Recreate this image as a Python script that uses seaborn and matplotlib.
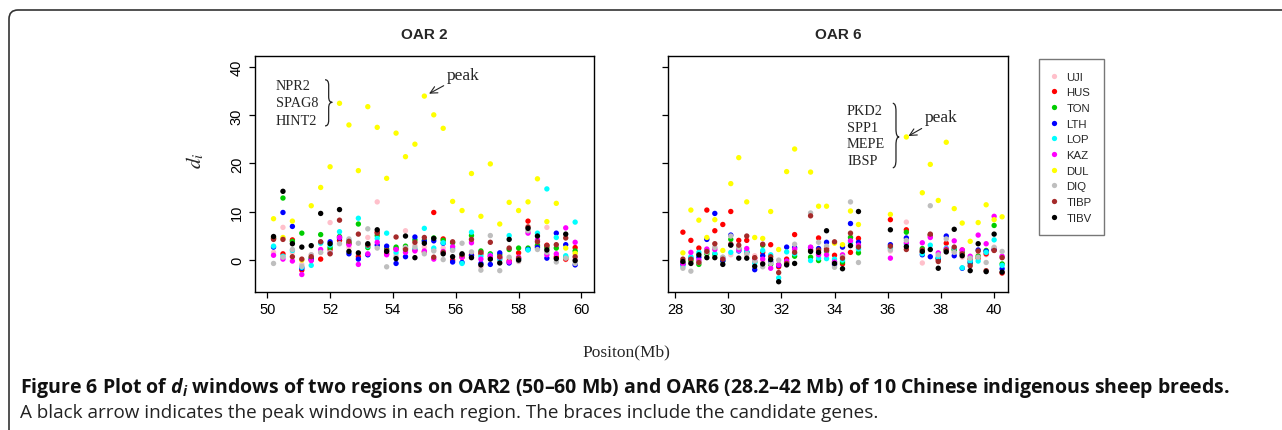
import numpy as np
import pandas as pd
import matplotlib
matplotlib.use("Agg")
import matplotlib.pyplot as plt
import seaborn as sns
from matplotlib.path import Path
from matplotlib.patches import PathPatch
from matplotlib.lines import Line2D

# ---------------- data ----------------
breeds = ["UJI", "HUS", "TON", "LTH", "LOP", "KAZ", "DUL", "DIQ", "TIBP", "TIBV"]
breed_colors = ["#FFC0CB", "#FF0000", "#00CD00", "#0000FF", "#00FFFF",
                "#FF00FF", "#FFFF00", "#BEBEBE", "#A52A2A", "#000000"]

oar2_pos = [50.2, 50.5, 50.8, 51.1, 51.4, 51.7, 52.0, 52.3, 52.6, 52.9, 53.2,
            53.5, 53.8, 54.1, 54.4, 54.7, 55.0, 55.3, 55.6, 55.9, 56.2, 56.5,
            56.8, 57.1, 57.4, 57.7, 58.0, 58.3, 58.6, 58.9, 59.2, 59.5, 59.8]
oar2_uji = [1.5, 6.7, 1.5, -1.0, 1.0, 1.5, 7.7, 4.0, 2.5, 1.0, 4.6, 12.0, 1.5, 1.0, 6.0, 3.0, 2.6,
            2.0, 2.4, 2.0, 0.4, 3.8, -1.5, 0.3, -0.2, 0.2, -0.4, 5.8, 3.8, 6.7, 0.8, 0.0, 0.2]
oar2_hus = [4.4, 1.2, 4.1, -2.2, -0.1, 0.1, 2.1, 4.0, 3.3, 0.6, 3.0, 5.7, 1.2, 2.2, 2.3, 2.0, 1.6,
            9.8, 4.3, -0.1, 0.5, 1.0, 1.2, 0.6, 0.3, -0.3, 1.4, 8.0, 2.8, 3.0, 0.5, 0.1, 2.5]
oar2_ton = [4.5, 12.8, 3.8, 5.5, 0.4, 5.2, 2.5, 4.8, 3.5, 7.4, 2.5, 5.0, 2.2, 2.6, 2.8, 4.1, 4.0,
            4.5, 4.0, 3.5, 0.8, 5.0, 1.8, 1.2, 1.0, 2.1, 2.4, 2.4, 3.0, 2.5, 2.4, 0.5, 1.8]
oar2_lth = [2.6, 9.8, 6.9, -1.8, 0.1, 3.6, 3.7, 4.5, 1.2, 0.1, 1.0, 3.0, 2.8, -0.8, 0.6, 4.7, 3.8,
            3.9, 3.4, -0.5, -0.6, 0.8, -0.8, -1.0, 1.4, -0.7, 0.2, 2.1, 2.5, 0.3, 5.5, 3.1, -1.1]
oar2_lop = [2.8, 0.7, 1.9, -1.6, -1.2, 3.4, 3.0, 5.8, 4.0, 8.6, 2.8, 4.4, 5.5, 1.5, 1.9, 2.2, 6.5,
            2.4, 3.5, 2.3, -0.8, 5.7, 0.7, 0.9, 0.1, 5.0, 0.0, 2.0, 5.5, 14.7, 4.6, 0.8, 7.8]
oar2_kaz = [0.9, 0.1, -0.3, -3.1, -0.2, 2.1, 1.4, 4.6, 3.1, -1.0, 1.2, 3.6, 1.0, 2.1, 1.5, 1.8, 1.8,
            0.1, 1.7, 2.7, 0.5, 3.5, 0.1, 0.8, 0.5, -0.5, 0.5, 5.5, 4.1, 1.0, 1.2, 6.6, 3.6]
oar2_dul = [8.5, 4.6, 8.0, -0.1, 11.2, 15.0, 19.3, 32.5, 28.0, 18.5, 31.8, 27.5, 16.9, 26.3, 21.4,
            24.0, 34.0, 30.1, 27.3, 12.1, 10.2, 17.9, 9.0, 19.9, 7.4, 11.9, 10.2, 12.0, 16.8, 7.9,
            11.7, 2.4, 1.3]
oar2_diq = [-0.8, 0.5, 2.1, -1.4, 1.0, 1.5, 1.5, 3.3, 4.3, 3.4, 6.4, 2.4, -1.5, 0.5, 2.5, 2.6, 1.2,
            1.8, 0.0, 1.9, 3.4, 1.6, -2.2, 5.0, -2.3, 0.5, -0.3, 6.0, 2.1, 1.5, -0.5, 0.3, -0.8]
oar2_tibp = [4.2, 4.2, 0.6, 0.1, 0.6, 3.7, 1.2, 8.2, 3.8, 5.3, 3.0, 5.5, 1.9, 4.7, 2.1, 3.6, 4.6,
             0.5, 1.5, 3.7, 1.0, 4.2, 1.5, 3.6, 0.6, 2.4, 0.3, 6.8, 3.7, 2.9, 3.1, 4.5, 0.6]
oar2_tibv = [4.8, 14.2, 3.3, 2.6, 2.9, 9.6, 3.3, 10.4, 1.7, 1.4, 3.3, 6.2, 1.7, 0.2, 4.9, 0.4, 3.4,
             4.4, 1.2, 0.6, 1.2, 0.4, -1.1, 0.1, -0.7, 4.2, -0.1, 6.5, 4.9, 2.0, 0.2, 5.3, -0.2]

oar6_pos = [28.3, 28.6, 28.9, 29.2, 29.5, 29.8, 30.1, 30.4, 30.7, 31.0, 31.3, 31.6,
            31.9, 32.2, 32.5, 33.1, 33.4, 33.7, 34.0, 34.3, 34.6, 34.9, 36.1, 36.7,
            37.3, 37.6, 37.9, 38.2, 38.5, 38.8, 39.1, 39.4, 39.7, 40.0, 40.3]
oar6_uji = [-0.5, -0.5, -0.3, 2.0, 2.5, 0.5, 1.0, 2.0, 1.0, 0.8, -0.5, -0.3, -1.0, -0.7, 2.0, 1.8,
            1.2, 1.5, -1.2, 0.8, 4.8, 2.0, 1.8, 7.8, -0.7, 4.8, 0.8, 1.8, 1.6, 0.5, 0.0, 1.0, 1.0,
            2.6, 0.5]
oar6_hus = [5.7, 4.0, 2.4, 10.3, 6.0, 7.3, 10.0, 4.0, 4.0, 0.3, 1.5, 3.1, -1.5, 0.1, 5.2, 2.0, 4.5,
            2.3, 0.9, -0.9, 1.5, 4.4, 8.3, 6.2, 1.5, 5.0, -0.1, 3.4, 2.2, 2.0, 0.1, 0.3, 1.2, 2.0,
            -2.8]
oar6_ton = [-0.7, -0.2, -1.0, 1.2, 1.1, -0.3, 4.2, 2.3, 1.5, -0.5, 3.0, -1.0, -1.1, -0.5, 0.7, 0.5,
            -0.2, 1.8, -0.5, -0.5, 4.6, 1.4, 2.5, 5.7, 2.3, 5.2, 0.2, 2.0, 2.0, 1.5, -0.8, 0.7, 1.9,
            7.1, -0.9]
oar6_lth = [-1.0, 0.3, 0.5, 4.2, 9.6, -0.2, 5.1, 1.8, 1.6, -2.1, 0.8, -0.5, -1.2, 2.6, 2.5, 2.5, 2.3,
            3.6, -1.0, 2.6, 7.5, 3.6, 3.1, 4.5, 1.0, 0.6, 0.3, 4.9, 0.8, -1.8, -0.5, 2.0, 1.7, 2.1,
            -1.9]
oar6_lop = [-1.4, 0.6, 1.5, 1.8, 1.3, 0.4, 1.5, 1.9, 1.7, -0.7, 1.9, 1.0, -3.8, 1.6, 1.2, -0.2, 0.3,
            0.2, 0.1, -0.1, 3.5, 2.2, 2.3, 3.2, 1.2, 3.0, 0.5, 2.4, 2.4, -1.7, -0.3, -0.3, 1.5, 4.1,
            -1.2]
oar6_kaz = [-0.9, 1.5, -0.1, 2.2, 2.1, 0.2, 3.1, 2.0, 2.3, -0.2, 0.1, -1.8, -1.1, -0.3, 2.2, 2.6, 1.0,
            1.0, -0.5, 1.0, 3.9, 3.0, 0.3, 3.5, 3.5, 4.6, 1.4, 2.2, 3.9, 2.0, 0.7, 5.1, 3.3, 9.0,
            0.7]
oar6_dul = [1.4, 10.3, 8.2, 4.6, 8.3, 1.9, 15.8, 21.2, 12.0, 4.6, 4.4, 10.0, 2.1, 18.3, 23.0, 18.2,
            11.1, 11.1, 3.4, 3.1, 10.1, 7.3, 9.4, 25.5, 13.9, 19.8, 12.3, 24.4, 10.6, 7.6, 3.8, 7.7,
            11.4, 8.3, 8.9]
oar6_diq = [-1.8, -2.4, -0.6, 1.5, 2.5, 0.5, 4.9, 2.5, 1.2, -0.3, -1.5, -0.8, -0.1, -0.9, 3.2, 9.7,
            3.6, 2.8, -1.6, 0.6, 12.0, -0.6, 2.0, 4.0, 1.9, 11.2, 1.0, 4.3, 1.5, 1.0, 0.3, 0.5, -0.6,
            2.5, 1.7]
oar6_tibp = [0.1, 0.1, -0.6, 1.7, 3.3, 0.1, 3.2, 3.0, 4.9, 0.4, 3.2, 0.6, -2.7, -0.8, 1.5, 9.1, 2.0,
             2.0, 3.7, 0.3, 5.5, 2.6, 2.8, 2.1, 2.0, 5.3, -0.4, 2.0, 2.6, 1.2, -1.3, 1.8, -2.3, 1.9,
             0.4]
oar6_tibv = [-0.4, -0.8, 1.0, 0.4, 0.4, -1.0, 3.0, 0.3, 0.3, -1.4, -0.9, 0.0, -4.6, -1.1, -0.8, 1.7,
             1.5, 6.0, -0.8, -1.9, 2.9, 10.0, 6.2, 2.7, 1.7, 2.1, -1.8, 1.6, 6.3, 0.8, -2.3, 3.3, -2.5,
             5.3, -2.6]

oar2_genes = ["NPR2", "SPAG8", "HINT2"]
oar6_genes = ["PKD2", "SPP1", "MEPE", "IBSP"]
oar2_xticks = [50, 52, 54, 56, 58, 60]
oar6_xticks = [28, 30, 32, 34, 36, 38, 40]
di_yticks = [0, 10, 20, 30, 40]
di_yticklabels = ["0", "10", "20", "30", "40"]

caption_bold = ("Figure 6 Plot of $d_i$ windows of two regions on OAR2 (50\u201360 Mb) and OAR6 "
                "(28.2\u201342 Mb) of 10 Chinese indigenous sheep breeds.")
caption_rest = ("A black arrow indicates the peak windows in each region. "
                "The braces include the candidate genes.")

# ---------------- frames ----------------
def long_frame(pos, series):
    rows = []
    for name, vals in zip(breeds, series):
        rows.append(pd.DataFrame({"pos": pos, "di": vals, "breed": name}))
    return pd.concat(rows, ignore_index=True)

df2 = long_frame(oar2_pos, [oar2_uji, oar2_hus, oar2_ton, oar2_lth, oar2_lop, oar2_kaz,
                            oar2_dul, oar2_diq, oar2_tibp, oar2_tibv])
df6 = long_frame(oar6_pos, [oar6_uji, oar6_hus, oar6_ton, oar6_lth, oar6_lop, oar6_kaz,
                            oar6_dul, oar6_diq, oar6_tibp, oar6_tibv])

# ---------------- style ----------------
sns.set_style("white")
plt.rcParams["font.family"] = ["Liberation Sans", "DejaVu Sans"]
plt.rcParams["mathtext.fontset"] = "custom"
plt.rcParams["mathtext.it"] = "Open Sans:italic:bold"
plt.rcParams["mathtext.rm"] = "Open Sans:bold"
plt.rcParams["mathtext.bf"] = "Open Sans:bold"

W, H = 1282, 431
fig = plt.figure(figsize=(W / 100, H / 100), dpi=100)
fig.patch.set_facecolor("white")

ax1 = fig.add_axes([255 / W, 1 - 293.3 / H, 339 / W, 236.6 / H])
ax2 = fig.add_axes([668 / W, 1 - 293.3 / H, 339.7 / W, 236.6 / H])

pal = dict(zip(breeds, breed_colors))
for ax, df in ((ax1, df2), (ax2, df6)):
    sns.scatterplot(data=df, x="pos", y="di", hue="breed", hue_order=breeds,
                    palette=pal, s=15, linewidth=0, legend=False, ax=ax, zorder=3)

ax1.set_xlim(49.61, 60.4)
ax2.set_xlim(27.74, 40.51)
for ax, xt in ((ax1, oar2_xticks), (ax2, oar6_xticks)):
    ax.set_ylim(-6.8, 42.4)
    ax.set_xticks(xt)
    ax.set_xlabel("")
    ax.set_ylabel("")
    ax.set_facecolor("white")
    for sp in ax.spines.values():
        sp.set_visible(True)
        sp.set_color("black")
        sp.set_linewidth(1.0)
    ax.tick_params(direction="out", length=4, width=0.9, color="black",
                   labelsize=10.5, labelcolor="black", pad=3,
                   bottom=True, left=True)
    ax.set_yticks(di_yticks, labels=di_yticklabels, rotation=90, va="center")
    ax.tick_params(axis="y", pad=4, labelrotation=90)
ax2.tick_params(axis="y", labelleft=False)

ax1.set_title("OAR 2", fontsize=11, fontweight="bold", pad=13)
ax2.set_title("OAR 6", fontsize=11, fontweight="bold", pad=13)

ax1.set_ylabel("$d_i$", fontsize=15, math_fontfamily="stix")
ax1.yaxis.set_label_coords(-0.145, 0.56)

fig.text(626 / W, 1 - 352 / H, "Positon(Mb)", ha="center", va="center",
         fontsize=12.5, family="Liberation Serif")

# ---------------- annotations ----------------
def brace(ax, x0, x1, yt, yb, ym):
    xm = (x0 + x1) / 2
    d = 0.12 * (yt - yb)
    verts = [(x0, yt), (xm, yt), (xm, yt - d),
             (xm, ym + d),
             (xm, ym), (x1, ym),
             (xm, ym), (xm, ym - d),
             (xm, yb + d),
             (xm, yb), (x0, yb)]
    codes = [Path.MOVETO, Path.CURVE3, Path.CURVE3,
             Path.LINETO,
             Path.CURVE3, Path.CURVE3,
             Path.CURVE3, Path.CURVE3,
             Path.LINETO,
             Path.CURVE3, Path.CURVE3]
    ax.add_patch(PathPatch(Path(verts, codes), fill=False, lw=0.9, color="#222222",
                           zorder=4))

serif = "Liberation Serif"
for i, g in enumerate(oar2_genes):
    ax1.text(50.28, 36.3 - 3.65 * i, g, fontsize=10.3, family=serif, ha="left", va="center")
brace(ax1, 51.84, 52.07, 37.4, 27.8, 32.7)
ax1.annotate("peak", xy=(55.15, 34.5), xytext=(55.72, 38.4), fontsize=12.5, family=serif,
             ha="left", va="center",
             arrowprops=dict(arrowstyle="->", lw=0.8, color="#222222",
                             shrinkA=0, shrinkB=0))

for i, g in enumerate(oar6_genes):
    ax2.text(34.47, 31.0 - 3.45 * i, g, fontsize=10.3, family=serif, ha="left", va="center")
brace(ax2, 36.19, 36.43, 32.5, 19.1, 25.5)
ax2.annotate("peak", xy=(36.78, 25.7), xytext=(37.40, 29.6), fontsize=12.5, family=serif,
             ha="left", va="center",
             arrowprops=dict(arrowstyle="->", lw=0.8, color="#222222",
                             shrinkA=0, shrinkB=0))

# ---------------- legend ----------------
handles = [Line2D([], [], ls="", marker="o", markersize=3.8, markerfacecolor=c,
                  markeredgewidth=0) for c in breed_colors]
leg = fig.legend(handles, breeds, loc="upper left", bbox_to_anchor=(1039 / W, 1 - 60 / H),
                 frameon=True, fancybox=False, fontsize=8.2, borderpad=1.1,
                 handlelength=0.45, handletextpad=0.85, labelspacing=0.5,
                 borderaxespad=0)
leg.get_frame().set_edgecolor("#555555")
leg.get_frame().set_linewidth(1.0)

# ---------------- outer border ----------------
top = (H - 11) / 100
left = 9 / 100
r = 0.09
bverts = [(W / 100 + 0.2, top), (left + r, top), (left, top), (left, top - r), (left, -0.2)]
bcodes = [Path.MOVETO, Path.LINETO, Path.CURVE3, Path.CURVE3, Path.LINETO]
fig.patches.append(PathPatch(Path(bverts, bcodes), fill=False, lw=1.2, color="#333333",
                             transform=fig.dpi_scale_trans))

# ---------------- caption ----------------
cap1 = fig.text(20 / W, 1 - 393 / H, caption_bold, ha="left", va="baseline",
                fontsize=12, fontweight="bold", family="Open Sans", color="#111111")
cap2 = fig.text(20 / W, 1 - 418 / H, caption_rest, ha="left", va="baseline",
                fontsize=12, family="Open Sans", color="#222222")
fig.canvas.draw()
renderer = fig.canvas.get_renderer()
for t, target in ((cap1, 1206), (cap2, 853)):
    w = t.get_window_extent(renderer).width
    t.set_fontsize(12 * target / w)

for lbl in ax1.get_yticklabels():
    lbl.set_rotation(90)
    lbl.set_verticalalignment("center")
    lbl.set_horizontalalignment("right")

fig.savefig("out.png", dpi=100, facecolor="white")
